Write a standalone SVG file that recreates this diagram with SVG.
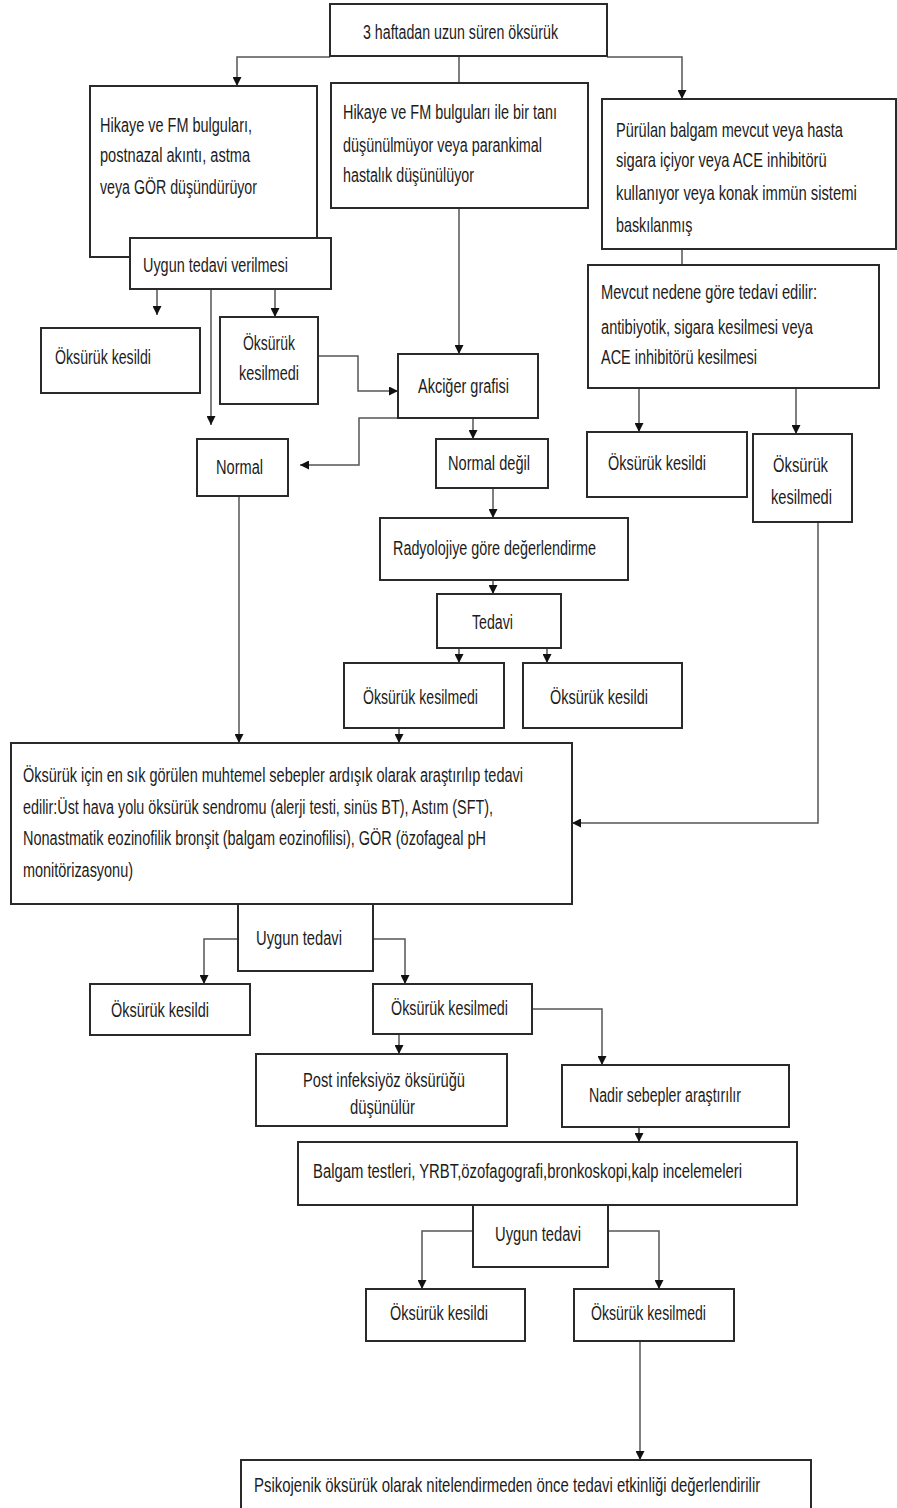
<svg xmlns="http://www.w3.org/2000/svg" width="897" height="1508" viewBox="0 0 897 1508">
<defs>
<marker id="ah" viewBox="0 0 10 10" refX="10" refY="5" markerWidth="10" markerHeight="9" markerUnits="userSpaceOnUse" orient="auto"><path d="M0,0 L10,5 L0,10 z" fill="#111"/></marker>
<style>
.b{fill:#fff;stroke:#2a2a2a;stroke-width:2}
.t{font-family:"Liberation Sans",Arial,sans-serif;font-size:20px;fill:#1c1c1c}
.c{fill:none;stroke:#555;stroke-width:1.5}
.a{marker-end:url(#ah)}
</style>
</defs>
<rect width="897" height="1508" fill="#fff"/>
<g id="connectors">
<path class="c a" d="M330,57 H237 V86"/>
<path class="c a" d="M607,57 H682 V99"/>
<path class="c" d="M459,56 V83"/>
<path class="c a" d="M237,208 V238"/>
<path class="c a" d="M157,289 V315"/>
<path class="c a" d="M275,289 V317"/>
<path class="c a" d="M211,289 V425"/>
<path class="c a" d="M459,208 V354"/>
<path class="c a" d="M318,356 H358 V391 H398"/>
<path class="c a" d="M398,418 H359 V465 H300"/>
<path class="c a" d="M473,418 V439"/>
<path class="c a" d="M493,488 V518"/>
<path class="c a" d="M493,580 V594"/>
<path class="c a" d="M459,648 V663"/>
<path class="c a" d="M547,648 V663"/>
<path class="c a" d="M399,728 V743"/>
<path class="c a" d="M239,496 V743"/>
<path class="c" d="M682,249 V265"/>
<path class="c a" d="M639,388 V432"/>
<path class="c a" d="M796,388 V434"/>
<path class="c a" d="M818,522 V823 H572"/>
<path class="c a" d="M238,939 H204 V984"/>
<path class="c a" d="M373,939 H405 V984"/>
<path class="c a" d="M399,1034 V1054"/>
<path class="c a" d="M532,1009 H602 V1065"/>
<path class="c a" d="M639,1127 V1142"/>
<path class="c a" d="M473,1231 H422 V1289"/>
<path class="c a" d="M608,1231 H659 V1289"/>
<path class="c a" d="M640,1341 V1460"/>
</g>
<g id="n_top"><rect class="b" x="330" y="4" width="277" height="52"/><text class="t" x="363" y="39" textLength="195" lengthAdjust="spacingAndGlyphs">3 haftadan uzun süren öksürük</text></g>
<g id="n_left"><rect class="b" x="90" y="86" width="227" height="171"/>
<text class="t" x="100" y="132" textLength="152" lengthAdjust="spacingAndGlyphs">Hikaye ve FM bulguları,</text>
<text class="t" x="100" y="162" textLength="150" lengthAdjust="spacingAndGlyphs">postnazal akıntı, astma</text>
<text class="t" x="100" y="194" textLength="157" lengthAdjust="spacingAndGlyphs">veya GÖR düşündürüyor</text></g>
<g id="n_uygun1"><rect class="b" x="130" y="238" width="201" height="51"/><text class="t" x="143" y="272" textLength="145" lengthAdjust="spacingAndGlyphs">Uygun tedavi verilmesi</text></g>
<g id="n_mid"><rect class="b" x="331" y="83" width="257" height="125"/>
<text class="t" x="343" y="119" textLength="214" lengthAdjust="spacingAndGlyphs">Hikaye ve FM bulguları ile bir tanı</text>
<text class="t" x="343" y="152" textLength="199" lengthAdjust="spacingAndGlyphs">düşünülmüyor veya parankimal</text>
<text class="t" x="343" y="182" textLength="131" lengthAdjust="spacingAndGlyphs">hastalık düşünülüyor</text></g>
<g id="n_right"><rect class="b" x="602" y="99" width="294" height="150"/>
<g transform="scale(0.7,1)">
<text class="t" x="880" y="137" textLength="324" lengthAdjust="spacingAndGlyphs">Pürülan balgam mevcut veya hasta</text>
<text class="t" x="880" y="167" textLength="301" lengthAdjust="spacingAndGlyphs">sigara içiyor veya ACE inhibitörü</text>
<text class="t" x="880" y="200" textLength="344" lengthAdjust="spacingAndGlyphs">kullanıyor veya konak immün sistemi</text>
<text class="t" x="880" y="232" textLength="109" lengthAdjust="spacingAndGlyphs">baskılanmış</text>
</g></g>
<g id="n_mevcut"><rect class="b" x="588" y="265" width="291" height="123"/>
<text class="t" x="601" y="299" textLength="216" lengthAdjust="spacingAndGlyphs">Mevcut nedene göre tedavi edilir:</text>
<text class="t" x="601" y="334" textLength="212" lengthAdjust="spacingAndGlyphs">antibiyotik, sigara kesilmesi veya</text>
<text class="t" x="601" y="364" textLength="156" lengthAdjust="spacingAndGlyphs">ACE inhibitörü kesilmesi</text></g>
<g id="n_kesildi1"><rect class="b" x="41" y="328" width="159" height="65"/><text class="t" x="55" y="364" textLength="96" lengthAdjust="spacingAndGlyphs">Öksürük kesildi</text></g>
<g id="n_kesilmedi1"><rect class="b" x="220" y="317" width="98" height="87"/>
<text class="t" x="243" y="350" textLength="52" lengthAdjust="spacingAndGlyphs">Öksürük</text>
<text class="t" x="239" y="380" textLength="60" lengthAdjust="spacingAndGlyphs">kesilmedi</text></g>
<g id="n_akciger"><rect class="b" x="398" y="354" width="140" height="64"/><text class="t" x="418" y="393" textLength="91" lengthAdjust="spacingAndGlyphs">Akciğer grafisi</text></g>
<g id="n_normal"><rect class="b" x="197" y="439" width="91" height="57"/><text class="t" x="216" y="474" textLength="47" lengthAdjust="spacingAndGlyphs">Normal</text></g>
<g id="n_normaldegil"><rect class="b" x="436" y="439" width="112" height="49"/><text class="t" x="448" y="470" textLength="82" lengthAdjust="spacingAndGlyphs">Normal değil</text></g>
<g id="n_kesildi2"><rect class="b" x="587" y="432" width="160" height="65"/><text class="t" x="608" y="470" textLength="98" lengthAdjust="spacingAndGlyphs">Öksürük kesildi</text></g>
<g id="n_kesilmedi2"><rect class="b" x="753" y="434" width="99" height="88"/>
<text class="t" x="773" y="472" textLength="55" lengthAdjust="spacingAndGlyphs">Öksürük</text>
<text class="t" x="771" y="504" textLength="61" lengthAdjust="spacingAndGlyphs">kesilmedi</text></g>
<g id="n_radyo"><rect class="b" x="380" y="518" width="248" height="62"/><text class="t" x="393" y="555" textLength="203" lengthAdjust="spacingAndGlyphs">Radyolojiye göre değerlendirme</text></g>
<g id="n_tedavi"><rect class="b" x="437" y="594" width="124" height="54"/><text class="t" x="472" y="629" textLength="41" lengthAdjust="spacingAndGlyphs">Tedavi</text></g>
<g id="n_kesilmedi3"><rect class="b" x="344" y="663" width="160" height="65"/><text class="t" x="363" y="704" textLength="115" lengthAdjust="spacingAndGlyphs">Öksürük kesilmedi</text></g>
<g id="n_kesildi3"><rect class="b" x="523" y="663" width="159" height="65"/><text class="t" x="550" y="704" textLength="98" lengthAdjust="spacingAndGlyphs">Öksürük kesildi</text></g>
<g id="n_main"><rect class="b" x="11" y="743" width="561" height="161"/>
<text class="t" x="23" y="782" textLength="500" lengthAdjust="spacingAndGlyphs">Öksürük için en sık görülen muhtemel sebepler ardışık olarak araştırılıp tedavi</text>
<text class="t" x="23" y="814" textLength="470" lengthAdjust="spacingAndGlyphs">edilir:Üst hava yolu öksürük sendromu (alerji testi, sinüs BT), Astım (SFT),</text>
<text class="t" x="23" y="845" textLength="463" lengthAdjust="spacingAndGlyphs">Nonastmatik eozinofilik bronşit (balgam eozinofilisi), GÖR (özofageal pH</text>
<text class="t" x="23" y="877" textLength="110" lengthAdjust="spacingAndGlyphs">monitörizasyonu)</text></g>
<g id="n_uygun2"><rect class="b" x="238" y="904" width="135" height="67"/><text class="t" x="256" y="945" textLength="86" lengthAdjust="spacingAndGlyphs">Uygun tedavi</text></g>
<g id="n_kesildi4"><rect class="b" x="90" y="984" width="160" height="51"/><text class="t" x="111" y="1017" textLength="98" lengthAdjust="spacingAndGlyphs">Öksürük kesildi</text></g>
<g id="n_kesilmedi4"><rect class="b" x="373" y="984" width="159" height="50"/><text class="t" x="391" y="1015" textLength="117" lengthAdjust="spacingAndGlyphs">Öksürük kesilmedi</text></g>
<g id="n_post"><rect class="b" x="256" y="1054" width="251" height="72"/>
<text class="t" x="303" y="1087" textLength="162" lengthAdjust="spacingAndGlyphs">Post infeksiyöz öksürüğü</text>
<text class="t" x="350" y="1114" textLength="65" lengthAdjust="spacingAndGlyphs">düşünülür</text></g>
<g id="n_nadir"><rect class="b" x="562" y="1065" width="227" height="62"/><text class="t" x="589" y="1102" textLength="152" lengthAdjust="spacingAndGlyphs">Nadir sebepler araştırılır</text></g>
<g id="n_balgam"><rect class="b" x="298" y="1142" width="499" height="63"/><text class="t" x="313" y="1178" textLength="429" lengthAdjust="spacingAndGlyphs">Balgam testleri, YRBT,özofagografi,bronkoskopi,kalp incelemeleri</text></g>
<g id="n_uygun3"><rect class="b" x="473" y="1205" width="135" height="62"/><text class="t" x="495" y="1241" textLength="86" lengthAdjust="spacingAndGlyphs">Uygun tedavi</text></g>
<g id="n_kesildi5"><rect class="b" x="366" y="1289" width="159" height="52"/><text class="t" x="390" y="1320" textLength="98" lengthAdjust="spacingAndGlyphs">Öksürük kesildi</text></g>
<g id="n_kesilmedi5"><rect class="b" x="574" y="1289" width="160" height="52"/><text class="t" x="591" y="1320" textLength="115" lengthAdjust="spacingAndGlyphs">Öksürük kesilmedi</text></g>
<g id="n_final"><rect class="b" x="241" y="1460" width="570" height="60"/>
<g transform="scale(0.7,1)"><text class="t" x="363" y="1492" textLength="723" lengthAdjust="spacingAndGlyphs">Psikojenik öksürük olarak nitelendirmeden önce tedavi etkinliği değerlendirilir</text></g></g>
</svg>
